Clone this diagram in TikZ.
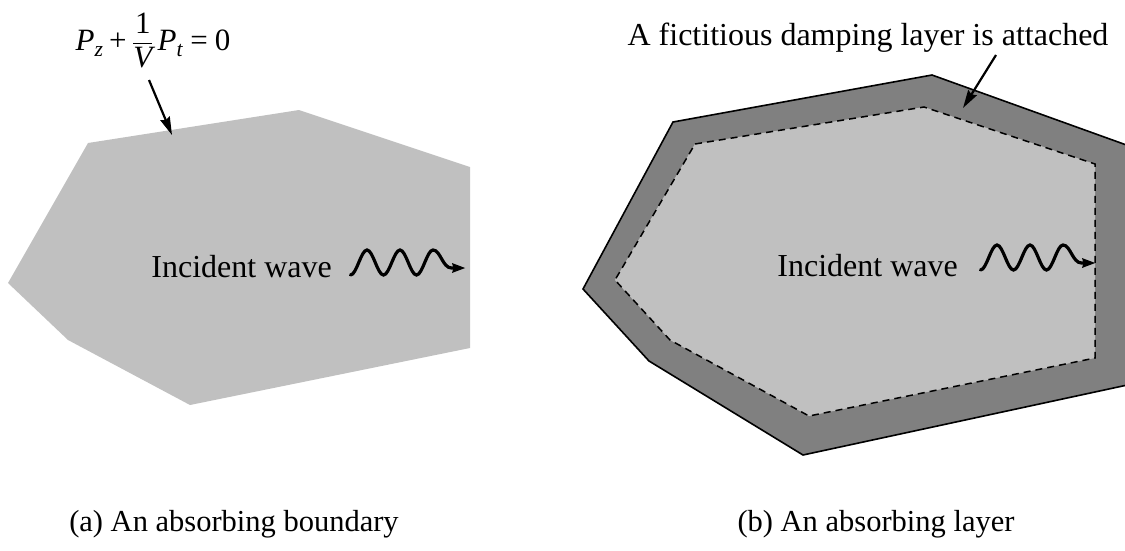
\documentclass[tikz,border=0pt]{standalone}
\usepackage{amsmath}
\usepackage{fontspec}
\setmainfont{Liberation Serif}
\usetikzlibrary{arrows.meta}
\definecolor{lightgr}{RGB}{192,192,192}
\definecolor{darkgr}{RGB}{128,128,128}
\tikzset{
  label32/.style={font=\fontsize{32}{38}\selectfont, inner sep=0pt},
  pointer/.style={line width=2.2pt, -{Stealth[length=18pt,width=10pt,inset=2pt]}},
  wavepic/.pic={
    \draw[line width=3.2pt, line cap=round, -{Stealth[length=13pt,width=9pt,inset=1pt]}]
      (0,0) cos (8.25,-12.5) sin (16.5,-25) cos (24.75,-12.5) sin (33,0)
      cos (41.25,-12.5) sin (49.5,-25) cos (57.75,-12.5) sin (66,0)
      cos (74.25,-12.5) sin (82.5,-25)
      .. controls (90,-25) and (92,-7) .. (101,-7) -- (115,-7);
  }
}
\begin{document}
\begin{tikzpicture}[x=1pt,y=-1pt]
\useasboundingbox (0,0) rectangle (1125,550);

% ---------- (a) absorbing boundary ----------
\fill[lightgr] (88,143) -- (299,110) -- (470,167) -- (470,348) -- (190,405) -- (68,340) -- (8,283) -- cycle;

\node[font=\fontsize{31}{36}\selectfont, inner sep=0pt, anchor=base] (eq) at (153,50)
  {$\textit{P}_{\text{\raisebox{-3pt}{\textit{z}}}}\mathbin{\textrm{+}}\dfrac{\textrm{1}}{\textit{V}}\,\textit{P}_{\text{\raisebox{-3pt}{\textit{t}}}}\mathrel{\textrm{=}}\textrm{0}$};
\coordinate (eqfrom) at (149,80);
\coordinate (edgea) at (172,135);
\draw[pointer] (eqfrom) -- (edgea);

\node[label32, anchor=base east] (inca) at (332,277) {Incident wave};
\pic at (350.5,275) {wavepic};

\node[label32, font=\fontsize{30.5}{36}\selectfont, anchor=base] (capa) at (234,531) {(a) An absorbing boundary};

% ---------- (b) absorbing layer ----------
\begin{scope}
  \clip (0,0) rectangle (1125,550);
  \filldraw[fill=darkgr, draw=black, line width=1.6pt, line join=miter]
    (673,122) -- (932,75) -- (1132,147) -- (1132,384) -- (803,455) -- (649,361) -- (583,289) -- cycle;
\end{scope}
\filldraw[fill=lightgr, draw=black, line width=1.5pt, dash pattern=on 7pt off 5pt]
  (695,144) -- (924,107) -- (1095,164) -- (1095,358) -- (809,416) -- (670,340) -- (615,280) -- cycle;

\node[label32, anchor=base] (layerlbl) at (868,45) {A fictitious damping layer is attached};
\coordinate (lblfrom) at (996,55);
\coordinate (edgeb) at (963,108);
\draw[pointer] (lblfrom) -- (edgeb);

\node[label32, anchor=base east] (incb) at (958,276) {Incident wave};
\pic at (980.5,270) {wavepic};

\node[label32, font=\fontsize{30.5}{36}\selectfont, anchor=base] (capb) at (876,531) {(b) An absorbing layer};
\end{tikzpicture}
\end{document}
